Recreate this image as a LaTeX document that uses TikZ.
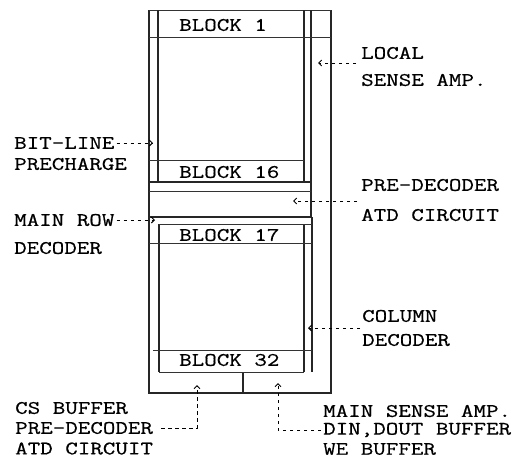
\documentclass[tikz,border=0pt]{standalone}
\usepackage{fontspec}
\setmonofont{Latin Modern Mono}[FakeStretch=1.28,FakeBold=0.6]
\usepackage{tikz}
\usetikzlibrary{positioning, calc, arrows.meta}

\tikzset{
  label/.style={anchor=west, inner sep=0pt, font=\ttfamily\fontsize{19}{19}\selectfont},
  callout/.style={dash pattern=on 3.5pt off 3.5pt, line width=0.8pt, -{Straight Barb[length=3pt,width=6pt,line width=1pt]}},
  wall/.style={line width=1.2pt, black!85},
  rule/.style={line width=0.7pt, black!80}
}

\begin{document}
\begin{tikzpicture}[x=1pt,y=-1pt]
  \useasboundingbox (0,0) rectangle (526,458);

  % Outer frame
  \draw[wall] (149,10) -- (149,393) -- (331,393) -- (331,10);
  \draw[rule] (149,10) -- (331,10);
  \draw[wall] (243,372) -- (243,393);

  % Upper array columns
  \draw[wall] (158,10) -- (158,182);
  \draw[wall] (304,10) -- (304,182);
  \draw[wall] (311,10) -- (311,217);

  % Lower array columns
  \draw[wall] (159,224) -- (159,372);
  \draw[wall] (304,224) -- (304,372);
  \draw[wall] (312,217) -- (312,372);

  % Horizontal rules
  \draw[rule] (149,37) -- (331,37);
  \draw[rule] (149,160) -- (304,160);
  \draw[wall] (149,182) -- (311,182);
  \draw[rule] (149,191) -- (311,191);
  \draw[wall] (149,217) -- (312,217);
  \draw[rule] (159,224) -- (312,224);
  \draw[rule] (149,243) -- (312,243);
  \draw[rule] (153,350) -- (312,350);
  \draw[rule] (159,372) -- (304,372);

  % Block labels
  \node[label] (block1) at (179,25) {BLOCK 1};
  \node[label] (block16) at (179,172) {BLOCK 16};
  \node[label] (block17) at (179,235) {BLOCK 17};
  \node[label] (block32) at (179,360) {BLOCK 32};

  % Left labels
  \node[label] (bitline) at (14,143) {BIT-LINE};
  \node[label] (precharge) at (14,164) {PRECHARGE};
  \node[label] (mainrow) at (14,220) {MAIN ROW};
  \node[label] (rowdecoder) at (14,248) {DECODER};

  % Right labels
  \node[label] (local) at (361,53) {LOCAL};
  \node[label] (senseamp) at (361,80) {SENSE AMP.};
  \node[label] (predecoder) at (361,185) {PRE-DECODER};
  \node[label] (atdcircuit) at (361,215) {ATD CIRCUIT};
  \node[label] (column) at (362,316) {COLUMN};
  \node[label] (coldecoder) at (362,340) {DECODER};

  % Bottom labels
  \node[label] (csbuffer) at (15,408) {CS BUFFER};
  \node[label] (cspredecoder) at (15,428) {PRE-DECODER};
  \node[label] (csatd) at (15,448.5) {ATD CIRCUIT};
  \node[label] (mainsense) at (323,411) {MAIN SENSE AMP.};
  \node[label] (dinbuffer) at (323,430) {DIN,DOUT BUFFER};
  \node[label] (webuffer) at (323,449) {WE BUFFER};

  % Arrow targets
  \coordinate (bitlinetip) at (153,143);
  \coordinate (mainrowtip) at (155,220);
  \coordinate (localstart) at (356,63);
  \coordinate (localtip) at (318,63);
  \coordinate (atdstart) at (357,201);
  \coordinate (atdtip) at (293,201);
  \coordinate (columnstart) at (360,328);
  \coordinate (columntip) at (308,328);
  \coordinate (cstip) at (197,385);
  \coordinate (maintip) at (278,383);

  % Callouts
  \draw[callout] ([xshift=2pt]bitline.east) -- (bitlinetip);
  \draw[callout] ([xshift=2pt]mainrow.east) -- (mainrowtip);
  \draw[callout] (localstart) -- (localtip);
  \draw[callout] (atdstart) -- (atdtip);
  \draw[callout] (columnstart) -- (columntip);
  \draw[callout] ([xshift=8pt]cspredecoder.east) -| (cstip);
  \draw[callout] ([xshift=-2pt]dinbuffer.west) -| (maintip);
\end{tikzpicture}
\end{document}
